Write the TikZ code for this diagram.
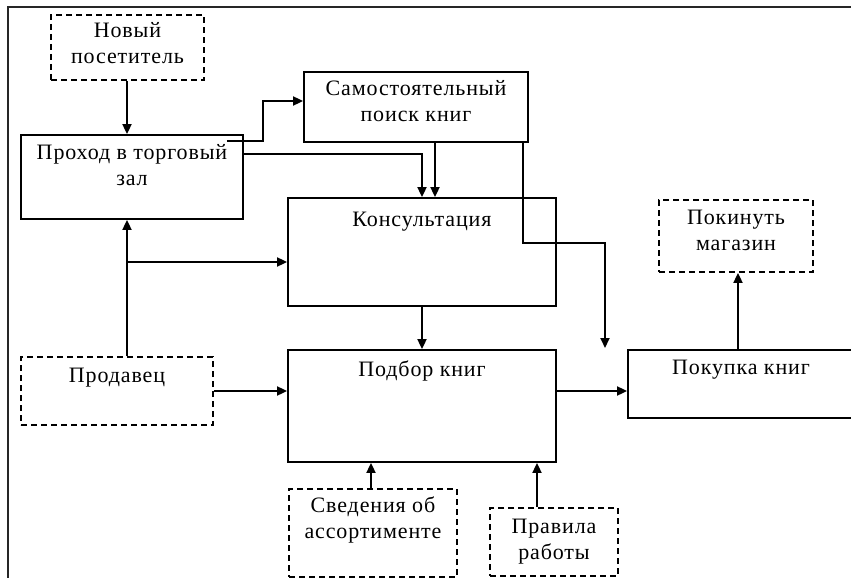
\documentclass[tikz,border=0pt]{standalone}
\usepackage{fontspec}
\setmainfont{Liberation Serif}[LetterSpace=4]
\usetikzlibrary{arrows.meta}
\newcommand\twoln[2]{\begin{tabular}[t]{@{}c@{}}#1\\#2\end{tabular}}
\tikzset{
  blk/.style={draw, line width=1.8pt, rectangle, inner sep=0pt},
  dbox/.style={blk, dash pattern=on 6pt off 4pt},
  txt/.style={anchor=base, inner sep=0pt, font=\fontsize{22}{26}\selectfont},
  arr/.style={line width=1.8pt, -{Triangle[length=10pt,width=9pt]}},
  frm/.style={line width=1.4pt, draw=black!85}
}
\begin{document}
\begin{tikzpicture}[x=1pt,y=-1pt]
\useasboundingbox (0,0) rectangle (851,578);
\draw[frm] (8,600) -- (8,7) -- (870,7);
% boxes
\node[dbox, minimum width=153pt, minimum height=65pt] (n1) at (127.5,47.5) {};
\node[blk, minimum width=222pt, minimum height=84pt] (b2) at (132,177) {};
\node[blk, minimum width=224pt, minimum height=70pt] (b3) at (416,107) {};
\node[blk, minimum width=268pt, minimum height=108pt] (b4) at (422,252) {};
\node[dbox, minimum width=192pt, minimum height=68pt] (n5) at (117,391) {};
\node[blk, minimum width=268pt, minimum height=112pt] (b6) at (422,406) {};
\node[blk, minimum width=226pt, minimum height=68pt] (b7) at (741,384) {};
\node[dbox, minimum width=154pt, minimum height=72pt] (n8) at (736,236) {};
\node[dbox, minimum width=168pt, minimum height=88pt] (n9) at (373,533) {};
\node[dbox, minimum width=128pt, minimum height=68pt] (n10) at (554,542) {};
% texts
\node[txt] (t1) at ([yshift=-23pt]n1.north) {\twoln{Новый}{посетитель}};
\node[txt] (t2) at ([yshift=-25pt]b2.north) {\twoln{Проход в торговый}{зал}};
\node[txt] (t3) at ([yshift=-24pt]b3.north) {\twoln{Самостоятельный}{поиск книг}};
\node[txt] (t4) at ([yshift=-29pt]b4.north) {Консультация};
\node[txt] (t5) at ([yshift=-26pt]n5.north) {Продавец};
\node[txt] (t6) at ([yshift=-27pt]b6.north) {Подбор книг};
\node[txt] (t7) at ([yshift=-25pt]b7.north) {Покупка книг};
\node[txt] (t8) at ([yshift=-25pt]n8.north) {\twoln{Покинуть}{магазин}};
\node[txt] (t9) at ([yshift=-24pt]n9.north) {\twoln{Сведения об}{ассортименте}};
\node[txt] (t10) at ([yshift=-26pt]n10.north) {\twoln{Правила}{работы}};
% connectors
\coordinate (f1) at (605,348);
\coordinate (j1) at (127,262);
\draw[arr] ([xshift=-0.5pt]n1.south) -- ([xshift=-0.5pt]n1.south |- b2.north);
\draw[arr] ([xshift=-17pt,yshift=-7pt]b2.north east) -| ([xshift=-40pt,yshift=6pt]b3.west) -- ([yshift=6pt]b3.west);
\draw[arr] ([yshift=23pt]b2.east) -| (b4.north);
\draw[arr] ([xshift=19pt]b3.south) -- ([xshift=19pt]b3.south |- b4.north);
\draw[arr] ([xshift=-6pt]b3.south east) -- ++(0,100) -| (f1);
\draw[arr] ([xshift=10pt]n5.north) -- ([xshift=10pt]n5.north |- b2.south);
\draw[arr] (j1) -- (j1 -| b4.west);
\draw[arr] (n5.east) -- (n5.east -| b6.west);
\draw[arr] (b4.south) -- (b6.north);
\draw[arr] ([yshift=15pt]b6.east) -- ([yshift=15pt]b6.east -| b7.west);
\draw[arr] ([xshift=-3pt]b7.north) -- ([xshift=-3pt]b7.north |- n8.south);
\draw[arr] ([xshift=-2pt]n9.north) -- ([xshift=-2pt]n9.north |- b6.south);
\draw[arr] ([xshift=-17pt]n10.north) -- ([xshift=-17pt]n10.north |- b6.south);
\end{tikzpicture}
\end{document}
